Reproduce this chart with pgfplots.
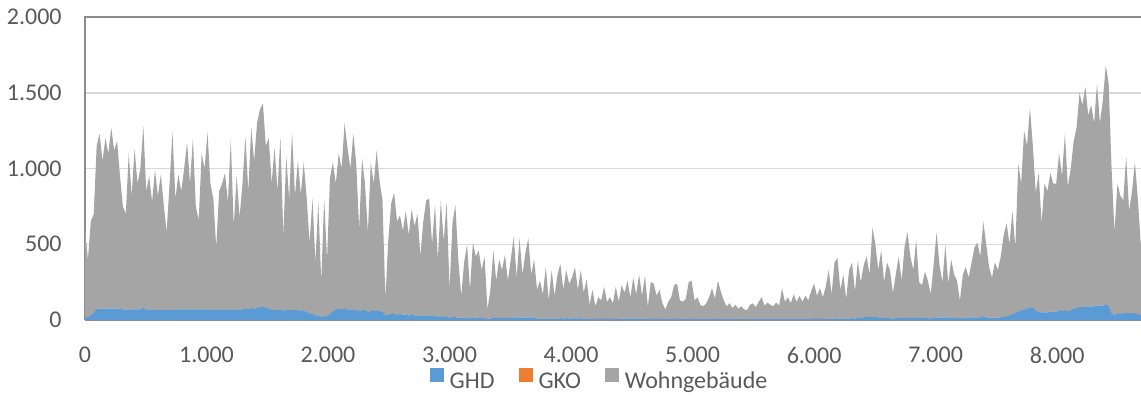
\documentclass[border=0pt]{standalone}
\usepackage{fontspec}
\setmainfont{Carlito}
\usepackage{pgfplots}
\usepackage{pgfplotstable}
\pgfplotsset{compat=1.18}
\definecolor{ghdc}{HTML}{5B9BD5}
\definecolor{gkoc}{HTML}{ED7D31}
\definecolor{wohnc}{HTML}{A5A5A5}
\definecolor{gridc}{HTML}{D9D9D9}
\definecolor{txtc}{HTML}{595959}
\definecolor{axlc}{HTML}{8C8C8C}
\pgfplotstableread{
h ghd gko wohn
0 15 0 585
24 20 0 380
48 30 0 620
72 50 0 650
96 75 0 1075
120 75 0 1155
144 75 0 975
168 75 0 1125
192 75 0 1025
216 75 0 1195
240 75 0 1045
264 75 0 1105
288 75 0 875
312 70 0 680
336 70 0 630
360 70 0 1030
384 70 0 750
408 70 0 1060
432 70 0 830
456 70 0 930
480 80 0 1200
504 70 0 780
528 65 0 885
552 65 0 715
576 65 0 925
600 65 0 755
624 65 0 895
648 65 0 695
672 65 0 515
696 65 0 835
720 65 0 1175
744 70 0 730
768 70 0 890
792 70 0 780
816 70 0 930
840 70 0 1100
864 70 0 830
888 70 0 1130
912 70 0 680
936 70 0 590
960 70 0 1030
984 70 0 930
1008 70 0 1170
1032 70 0 830
1056 70 0 730
1080 65 0 415
1104 65 0 785
1128 70 0 830
1152 65 0 905
1176 70 0 710
1200 70 0 1120
1224 65 0 555
1248 70 0 880
1272 70 0 610
1296 70 0 830
1320 75 0 1135
1344 70 0 780
1368 80 0 1190
1392 75 0 975
1416 80 0 1220
1440 85 0 1305
1464 90 0 1340
1488 80 0 1070
1512 75 0 1125
1536 70 0 830
1560 70 0 1070
1584 65 0 785
1608 70 0 1140
1632 60 0 490
1656 65 0 1015
1680 65 0 735
1704 70 0 1170
1728 65 0 755
1752 65 0 985
1776 60 0 770
1800 60 0 980
1824 55 0 755
1848 40 0 470
1872 40 0 760
1896 30 0 350
1920 30 0 750
1944 20 0 230
1968 25 0 775
1992 25 0 375
2016 40 0 900
2040 55 0 985
2064 70 0 830
2088 75 0 1025
2112 70 0 930
2136 75 0 1225
2160 70 0 1070
2184 70 0 930
2208 70 0 1160
2232 65 0 965
2256 60 0 540
2280 65 0 1005
2304 65 0 835
2328 55 0 525
2352 60 0 980
2376 60 0 840
2400 65 0 1055
2424 60 0 860
2448 55 0 735
2472 30 0 110
2496 35 0 495
2520 40 0 730
2544 40 0 800
2568 35 0 615
2592 40 0 650
2616 35 0 555
2640 35 0 685
2664 30 0 530
2688 35 0 695
2712 30 0 590
2736 30 0 670
2760 25 0 395
2784 30 0 620
2808 30 0 760
2832 30 0 770
2856 25 0 475
2880 25 0 735
2904 20 0 380
2928 25 0 765
2952 20 0 500
2976 25 0 755
3000 15 0 185
3024 20 0 620
3048 20 0 740
3072 15 0 385
3096 15 0 145
3120 15 0 365
3144 15 0 485
3168 10 0 190
3192 15 0 495
3216 15 0 405
3240 15 0 445
3264 12 0 318
3288 12 0 408
3312 8 0 62
3336 10 0 190
3360 15 0 445
3384 12 0 248
3408 15 0 385
3432 12 0 318
3456 15 0 415
3480 12 0 248
3504 15 0 385
3528 18 0 532
3552 15 0 265
3576 18 0 522
3600 15 0 285
3624 15 0 425
3648 18 0 522
3672 15 0 285
3696 15 0 385
3720 10 0 190
3744 10 0 250
3768 8 0 162
3792 10 0 340
3816 8 0 122
3840 10 0 320
3864 8 0 152
3888 10 0 290
3912 12 0 358
3936 10 0 190
3960 12 0 318
3984 10 0 230
4008 10 0 270
4032 12 0 338
4056 10 0 190
4080 12 0 318
4104 10 0 170
4128 10 0 260
4152 8 0 92
4176 8 0 192
4200 6 0 84
4224 8 0 142
4248 8 0 122
4272 8 0 212
4296 8 0 112
4320 8 0 142
4344 6 0 104
4368 8 0 212
4392 8 0 112
4416 10 0 220
4440 8 0 172
4464 10 0 250
4488 8 0 142
4512 10 0 270
4536 8 0 162
4560 10 0 290
4584 8 0 152
4608 10 0 280
4632 6 0 84
4656 8 0 242
4680 8 0 232
4704 8 0 152
4728 8 0 192
4752 6 0 104
4776 5 0 65
4800 6 0 114
4824 6 0 144
4848 8 0 222
4872 8 0 232
4896 6 0 124
4920 6 0 114
4944 6 0 134
4968 8 0 242
4992 8 0 252
5016 6 0 124
5040 6 0 144
5064 5 0 95
5088 5 0 85
5112 5 0 105
5136 6 0 144
5160 6 0 204
5184 6 0 134
5208 8 0 252
5232 6 0 184
5256 6 0 124
5280 5 0 85
5304 5 0 105
5328 5 0 75
5352 5 0 95
5376 5 0 70
5400 5 0 85
5424 4 0 66
5448 4 0 61
5472 5 0 95
5496 5 0 105
5520 5 0 80
5544 5 0 115
5568 5 0 145
5592 5 0 90
5616 5 0 110
5640 5 0 95
5664 5 0 85
5688 5 0 110
5712 5 0 90
5736 6 0 204
5760 5 0 115
5784 6 0 144
5808 5 0 105
5832 6 0 164
5856 5 0 115
5880 6 0 154
5904 5 0 115
5928 6 0 154
5952 6 0 124
5976 7 0 183
6000 8 0 232
6024 7 0 153
6048 8 0 202
6072 7 0 143
6096 8 0 212
6120 10 0 320
6144 8 0 162
6168 10 0 370
6192 12 0 398
6216 8 0 192
6240 10 0 290
6264 8 0 132
6288 10 0 320
6312 12 0 368
6336 10 0 180
6360 12 0 378
6384 15 0 235
6408 18 0 342
6432 20 0 400
6456 18 0 282
6480 22 0 588
6504 20 0 480
6528 18 0 312
6552 15 0 445
6576 12 0 238
6600 12 0 368
6624 12 0 318
6648 10 0 170
6672 12 0 288
6696 12 0 408
6720 12 0 248
6744 12 0 468
6768 15 0 565
6792 12 0 408
6816 12 0 318
6840 15 0 515
6864 12 0 238
6888 12 0 218
6912 12 0 308
6936 12 0 248
6960 10 0 160
6984 15 0 355
7008 18 0 562
7032 15 0 345
7056 15 0 235
7080 18 0 482
7104 15 0 225
7128 18 0 382
7152 15 0 285
7176 15 0 245
7200 10 0 120
7224 15 0 285
7248 15 0 335
7272 15 0 265
7296 18 0 362
7320 18 0 462
7344 18 0 492
7368 18 0 402
7392 20 0 630
7416 18 0 482
7440 15 0 335
7464 15 0 265
7488 15 0 365
7512 15 0 315
7536 18 0 402
7560 20 0 540
7584 25 0 615
7608 30 0 470
7632 40 0 680
7656 45 0 435
7680 55 0 975
7704 65 0 835
7728 70 0 1180
7752 75 0 1075
7776 85 0 1315
7800 80 0 1070
7824 60 0 780
7848 55 0 915
7872 50 0 590
7896 50 0 850
7920 50 0 800
7944 55 0 915
7968 55 0 845
7992 55 0 845
8016 60 0 1040
8040 60 0 890
8064 60 0 1170
8088 60 0 820
8112 65 0 935
8136 75 0 1105
8160 80 0 1190
8184 85 0 1415
8208 85 0 1335
8232 90 0 1450
8256 90 0 1260
8280 90 0 1330
8304 90 0 1210
8328 95 0 1465
8352 95 0 1205
8376 95 0 1355
8400 100 0 1580
8424 95 0 1465
8448 40 0 960
8472 35 0 545
8496 40 0 860
8520 40 0 780
8544 45 0 745
8568 45 0 1035
8592 45 0 675
8616 45 0 805
8640 45 0 995
8664 40 0 760
8688 35 0 465
8712 35 0 565
}\loaddata
\begin{document}
\begin{tikzpicture}
\useasboundingbox (-42.5pt,-38pt) rectangle (528pt,160pt);
\begin{axis}[
  at={(0,0)}, anchor=south west,
  scale only axis, width=528pt, height=151.5pt,
  xmin=0, xmax=8690, ymin=0, ymax=2000,
  xtick={0,1000,...,8000}, ytick={0,500,...,2000},
  axis line style={draw=none},
  major tick length=0pt,
  ymajorgrids, grid style={gridc, line width=0.75pt},
  clip mode=individual,
  stack plots=y,
  /pgf/number format/1000 sep={.},
  /pgf/number format/assume math mode=true,
  ticklabel style={font=\fontsize{12pt}{14pt}\selectfont, text=txtc},
  yticklabel style={anchor=east, inner sep=0pt, xshift=-11.5pt},
  xticklabel style={anchor=north, inner sep=0pt, yshift=-13.5pt},
  legend columns=-1,
  legend image code/.code={\fill[#1] (0pt,0pt) rectangle (7pt,7pt);},
  legend style={at={(axis description cs:0.4863,-0.198)}, anchor=center,
    draw=none, fill=none, inner sep=0pt, outer sep=0pt,
    font=\fontsize{12pt}{14pt}\selectfont, text=txtc,
    nodes={inner sep=0pt},
    /tikz/every odd column/.append style={column sep=3pt},
    /tikz/every even column/.append style={column sep=12pt}},
]
\addplot[fill=ghdc, draw=none] table[x=h, y=ghd] {\loaddata} \closedcycle;
\addplot[fill=gkoc, draw=none] table[x=h, y=gko] {\loaddata} \closedcycle;
\addplot[fill=wohnc, draw=none] table[x=h, y=wohn] {\loaddata} \closedcycle;
\legend{GHD, GKO, Wohngebäude}
\draw[axlc, line width=0.75pt] (rel axis cs:0,0) -- (rel axis cs:0,1) -- (rel axis cs:1,1);
\draw[axlc, line width=0.75pt] (rel axis cs:0,0) -- (rel axis cs:1,0);
\end{axis}
\end{tikzpicture}
\end{document}
